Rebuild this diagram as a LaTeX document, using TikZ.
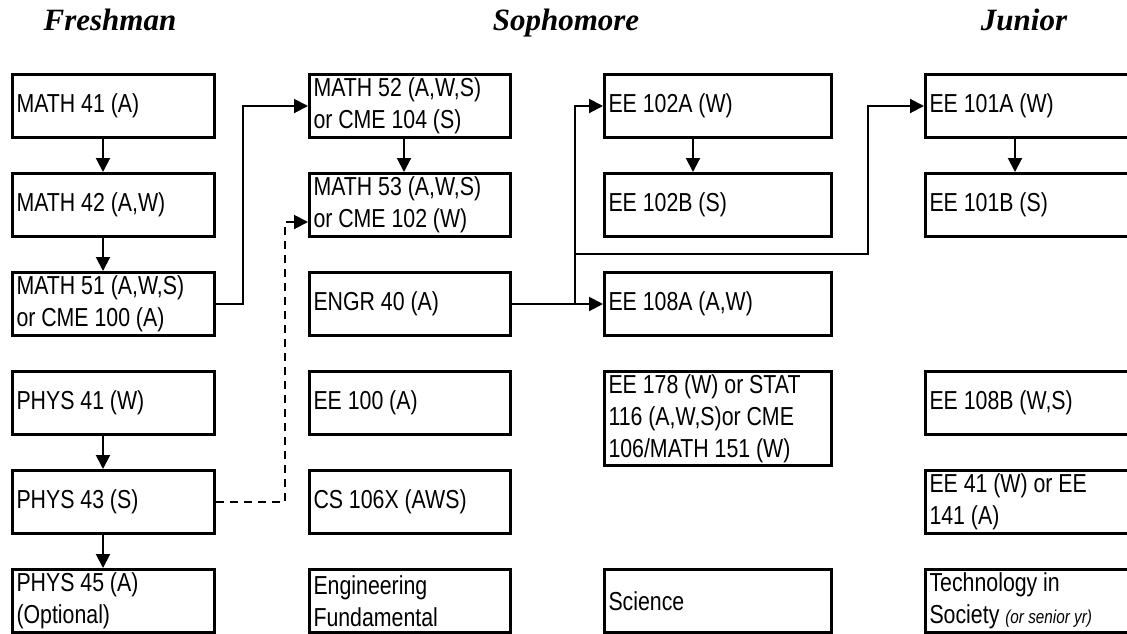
\documentclass[tikz,border=0pt]{standalone}
\usepackage{fontspec}
\setmainfont{Liberation Sans}[FakeStretch=0.82]
\newfontfamily\titlefont{Liberation Serif}
\usetikzlibrary{arrows.meta}
\newcommand\narrowspace{\spaceskip=4.4pt plus 1pt minus 1pt\relax}
\tikzset{
  box/.style={draw, line width=2.25pt, rectangle, inner xsep=3pt, inner ysep=0pt,
    align=left, minimum height=47.25pt,
    font=\fontsize{19.5pt}{24pt}\selectfont,
    execute at begin node=\narrowspace},
  colA/.style={box, minimum width=151.5pt, text width=145.5pt},
  colB/.style={box, minimum width=150.75pt, text width=144.75pt},
  colC/.style={box, minimum width=170.25pt, text width=164.25pt},
  colD/.style={box, minimum width=172.5pt, text width=166.5pt},
  arr/.style={line width=1.5pt, -{Triangle[length=10.5pt,width=10.5pt]}},
  dashedarr/.style={arr, dash pattern=on 6pt off 4.5pt},
  yeartitle/.style={font=\titlefont\bfseries\itshape\fontsize{23.25pt}{28pt}\selectfont, anchor=base, inner sep=0pt}
}
\begin{document}
\begin{tikzpicture}[x=0.75pt, y=-0.75pt]
\useasboundingbox (0,0) rectangle (1127,633);

% titles
\node[yeartitle] (tF) at (110,30) {Freshman};
\node[yeartitle] (tS) at (566,30) {Sophomore};
\node[yeartitle] (tJ) at (1024,30) {Junior};

% column 1
\node[colA] (m41) at (113.5,106) {MATH 41 (A)};
\node[colA] (m42) at (113.5,205) {MATH 42 (A,W)};
\node[colA] (m51) at (113.5,304) {MATH 51 (A,W,S)\\or CME 100 (A)};
\node[colA] (p41) at (113.5,403) {PHYS 41 (W)};
\node[colA] (p43) at (113.5,502) {PHYS 43 (S)};
\node[colA] (p45) at (113.5,601) {PHYS 45 (A)\\(Optional)};

% column 2
\node[colB] (m52) at (410,106) {MATH 52 (A,W,S)\\or CME 104 (S)};
\node[colB] (m53) at (410,205) {MATH 53 (A,W,S)\\or CME 102 (W)};
\node[colB] (e40) at (410,304) {ENGR 40 (A)};
\node[colB] (e100) at (410,403) {EE 100 (A)};
\node[colB] (cs106) at (410,502) {CS 106X (AWS)};
\node[colB] (engf) at (410,601) {Engineering\\Fundamental};

% column 3
\node[colC] (ee102a) at (718,106) {EE 102A (W)};
\node[colC] (ee102b) at (718,205) {EE 102B (S)};
\node[colC] (ee108a) at (718,304) {EE 108A (A,W)};
\node[colC, minimum height=70.5pt] (ee178) at (718,418.5) {EE 178 (W) or STAT\\116 (A,W,S)or CME\\106/MATH 151 (W)};
\node[colC] (sci) at (718,601) {Science};

% column 4
\node[colD] (ee101a) at (1040.5,106) {EE 101A (W)};
\node[colD] (ee101b) at (1040.5,205) {EE 101B (S)};
\node[colD] (ee108b) at (1040.5,403) {EE 108B (W,S)};
\node[colD] (ee41) at (1040.5,502) {EE 41 (W) or EE\\141 (A)};
\node[colD] (tis) at (1040.5,601) {Technology in\\Society {\fontsize{14pt}{16pt}\selectfont\itshape\spaceskip=3.2pt\relax (or senior yr)}};

% helper coordinates
\coordinate (ax1) at (103,0);
\coordinate (ax2) at (404,0);
\coordinate (ax3) at (693,0);
\coordinate (ax4) at (1015,0);
\coordinate (v1) at (243,0);
\coordinate (v2) at (285,0);
\coordinate (v3) at (575,0);
\coordinate (j1) at (575,254);
\coordinate (j2) at (868,254);
\coordinate (m53in) at ([yshift=-12.75pt]m53.west);

% vertical arrows
\draw[arr] (m41.south -| ax1) -- (m42.north -| ax1);
\draw[arr] (m42.south -| ax1) -- (m51.north -| ax1);
\draw[arr] (p41.south -| ax1) -- (p43.north -| ax1);
\draw[arr] (p43.south -| ax1) -- (p45.north -| ax1);
\draw[arr] (m52.south -| ax2) -- (m53.north -| ax2);
\draw[arr] (ee102a.south -| ax3) -- (ee102b.north -| ax3);
\draw[arr] (ee101a.south -| ax4) -- (ee101b.north -| ax4);

% elbow connectors
\draw[arr] (m51.east) -- (m51.east -| v1) |- (m52.west);
\draw[dashedarr] (p43.east) -- (p43.east -| v2) |- (m53in);
\draw[arr] (e40.east) -- (ee108a.west);
\draw[arr] (e40.east -| v3) |- (ee102a.west);
\draw[arr] (j1) -- (j2) |- (ee101a.west);
\end{tikzpicture}
\end{document}
